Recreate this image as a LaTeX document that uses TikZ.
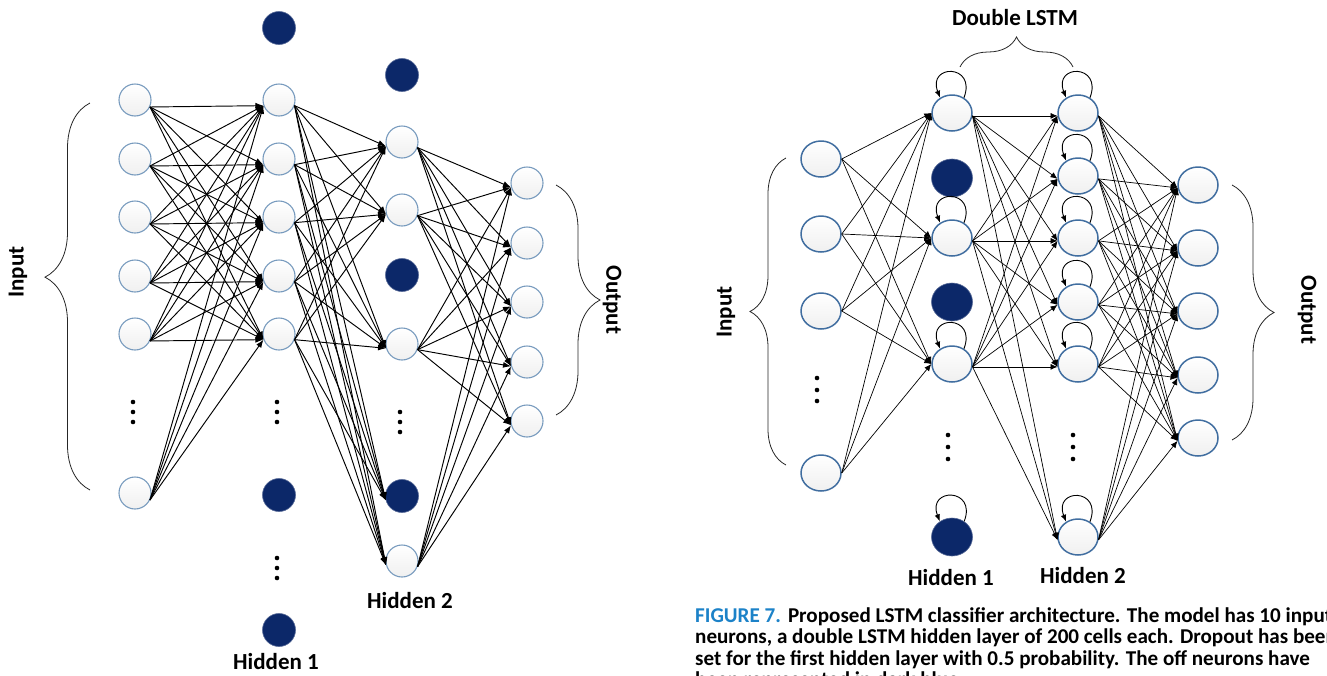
\documentclass[tikz,border=0pt]{standalone}
\usepackage{fontspec}
\setmainfont{Carlito}
\usetikzlibrary{arrows.meta,decorations.pathreplacing,shapes.geometric}
\definecolor{navy}{RGB}{12,40,105}
\definecolor{ringL}{RGB}{120,155,190}
\definecolor{ringR}{RGB}{65,110,160}
\definecolor{figblue}{RGB}{28,130,200}

\begin{document}
\begin{tikzpicture}[x=1pt,y=-1pt,
  neuron/.style={circle,draw=ringL,line width=1.1pt,top color=white,bottom color=black!6,minimum size=32pt,inner sep=0pt},
  offn/.style={circle,fill=navy,draw=navy!70,line width=0.6pt,minimum size=33pt,inner sep=0pt},
  cell/.style={ellipse,draw=ringR,line width=1.5pt,top color=white,bottom color=black!6,minimum width=40pt,minimum height=36pt,inner sep=0pt},
  offcell/.style={ellipse,fill=navy,draw=navy!70,line width=0.6pt,minimum width=41pt,minimum height=38pt,inner sep=0pt},
  wire/.style={-{Latex[length=8pt,width=6pt]},line width=0.95pt},
  wireR/.style={-{Latex[length=7pt,width=6pt]},line width=0.7pt},
  selfloop/.style={-{Latex[length=7pt,width=5.5pt]},line width=0.9pt},
  lab/.style={font=\bfseries\fontsize{23}{25}\selectfont,inner sep=0pt},
  caption/.style={font=\bfseries\fontsize{21.1}{23}\selectfont,anchor=base west,inner sep=0pt},
  vdot/.style={circle,fill=black,minimum size=4.6pt,inner sep=0pt},
  bracestyle/.style={decorate,decoration={brace,amplitude=#1},line width=0.8pt,draw=black!85}
]
\useasboundingbox (0,0) rectangle (1327,675);
\clip (0,0) rectangle (1327,675);

% ---------------- left network: dense layers with dropout ----------------
% input layer
\foreach \y [count=\i] in {100,159,217,276,334,493}
  \node[neuron] (li\i) at (135,\y) {};
% first hidden layer (visible units, then switched-off units)
\foreach \y [count=\i] in {100,159,217,276,334}
  \node[neuron] (lh\i) at (279,\y) {};
\foreach \y [count=\i] in {28,495,630}
  \node[offn] (lhd\i) at (279,\y) {};
% second hidden layer; the fourth target is a dropped unit
\foreach \y [count=\i] in {142,210,344}
  \node[neuron] (lk\i) at (402,\y) {};
\node[offn] (lk4) at (402,496) {};
\node[neuron] (lk5) at (402,561) {};
\foreach \y [count=\i] in {75,275}
  \node[offn] (lkd\i) at (402,\y) {};
% output layer
\foreach \y [count=\i] in {183,243,302,362,421}
  \node[neuron] (lo\i) at (527,\y) {};

% vertical ellipses
\foreach \y [count=\i] in {402,412,422} {
  \node[vdot] (lia\i) at (133,\y) {};
  \node[vdot] (lha\i) at (277,\y) {};
  \node[vdot] (lka\i) at (400,\y+10) {};
}
\foreach \y [count=\i] in {558,568,578}
  \node[vdot] (lhb\i) at (277,\y) {};

% connections
\foreach \i in {1,...,6}
  \foreach \j in {1,...,5}
    \draw[wire] (li\i.-25) -- (lh\j.200);
\foreach \i in {1,...,5}
  \foreach \j in {1,...,5}
    \draw[wire] (lh\i.-20) -- (lk\j.195);
\foreach \i in {1,2,3,5}
  \foreach \j in {1,...,5}
    \draw[wire] (lk\i.-20) -- (lo\j.195);

% braces and labels
\draw[bracestyle=45,decoration={aspect=0.55}] (90,490) -- (90,103);
\draw[bracestyle=44] (556,185) -- (556,415);
\node[lab,rotate=90] (linput) at (18,272) {Input};
\node[lab,rotate=-90] (loutput) at (612,300) {Output};
\node[lab] (lhid1) at (276,662) {Hidden 1};
\node[lab] (lhid2) at (410,601) {Hidden 2};

% ---------------- right network: double LSTM ----------------
\foreach \y [count=\i] in {159,234,311,473}
  \node[cell] (ri\i) at (821,\y) {};
\foreach \y [count=\i] in {113,238,364}
  \node[cell] (rh\i) at (952,\y) {};
\foreach \y [count=\i] in {178,302,537}
  \node[offcell] (rhd\i) at (952,\y) {};
\foreach \y [count=\i] in {113,176,238,302,364,537}
  \node[cell] (rk\i) at (1078,\y) {};
\foreach \y [count=\i] in {185,248,311,375,438}
  \node[cell] (ro\i) at (1198,\y) {};

\foreach \y [count=\i] in {378,390,401}
  \node[vdot] (ria\i) at (817,\y) {};
\foreach \y [count=\i] in {435,447,459} {
  \node[vdot] (rha\i) at (948,\y) {};
  \node[vdot] (rka\i) at (1073,\y) {};
}

% recurrent self-connections
\foreach \n in {rh1,rh2,rh3,rhd3,rk1,rk2,rk3,rk4,rk5,rk6}
  \draw[selfloop] (\n.52) .. controls +(13,-34) and +(-13,-34) .. (\n.128);

% connections
\foreach \i in {1,...,4}
  \foreach \j in {1,...,3}
    \draw[wireR] (ri\i.east) -- (rh\j.west);
\foreach \i in {1,...,3}
  \foreach \j in {1,...,6}
    \draw[wireR] (rh\i.-8) -- (rk\j.188);
\foreach \i in {1,...,6}
  \foreach \j in {1,...,5}
    \draw[wireR] (rk\i.-8) -- (ro\j.188);

% braces and labels
\draw[bracestyle=30] (960,67) -- (1073,67);
\draw[bracestyle=36] (786,465) -- (786,158);
\draw[bracestyle=42] (1232,185) -- (1232,440);
\node[lab] (rdouble) at (1015,18) {Double LSTM};
\node[lab,rotate=90] (rinput) at (726,312) {Input};
\node[lab,rotate=-90] (routput) at (1307,310) {Output};
\node[lab] (rhid1) at (951,578) {Hidden 1};
\node[lab] (rhid2) at (1083,576) {Hidden 2};

% figure caption
\node[caption] (cap1) at (695,622) {\textcolor{figblue}{FIGURE 7.}\hspace{7pt}Proposed LSTM classifier architecture. The model has 10 input};
\node[caption] (cap2) at (695,643.5) {neurons, a double LSTM hidden layer of 200 cells each. Dropout has been};
\node[caption] (cap3) at (695,665) {set for the first hidden layer with 0.5 probability. The off neurons have};
\node[caption] (cap4) at (695,686.5) {been represented in dark blue.};
\end{tikzpicture}
\end{document}
